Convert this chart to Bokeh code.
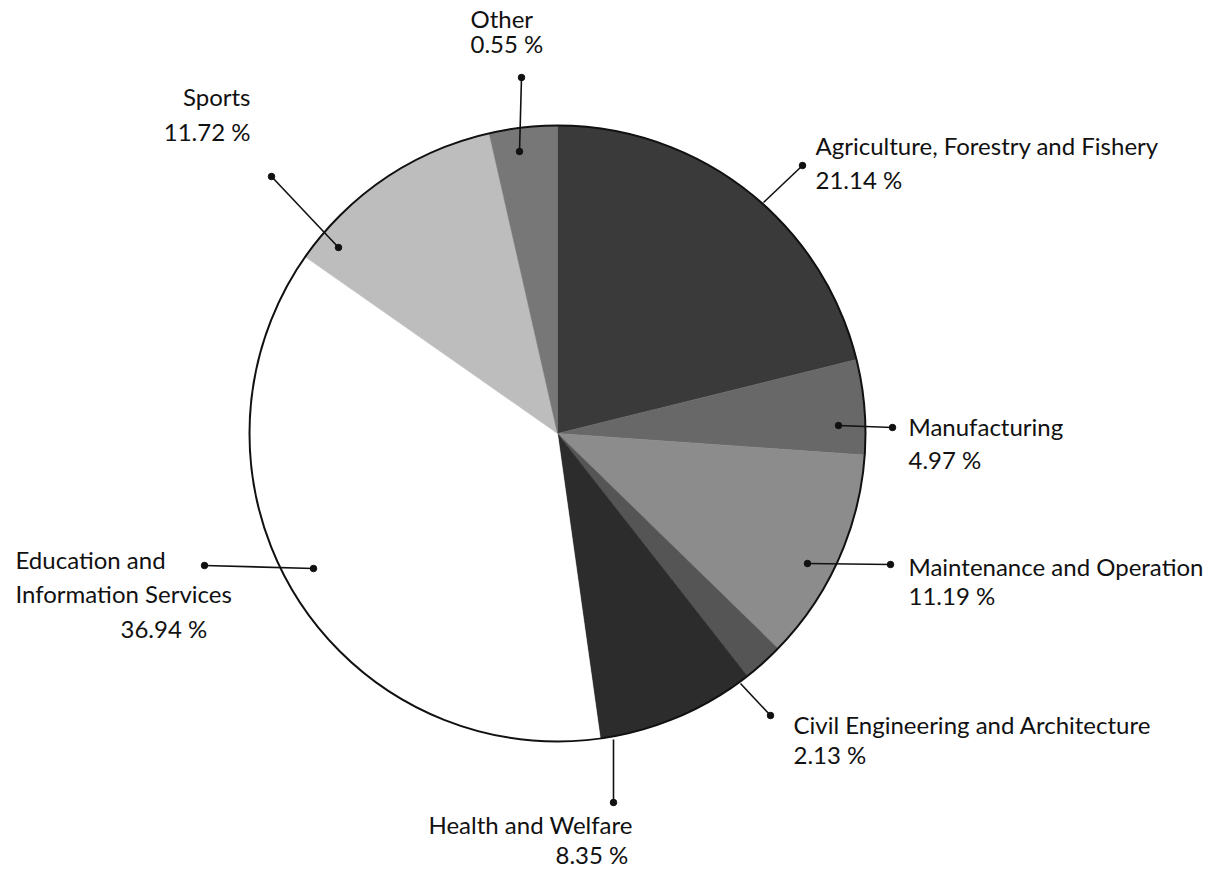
import numpy as np
from bokeh.plotting import figure
from bokeh.models import Range1d, ColumnDataSource
from bokeh.core.properties import value
from bokeh.embed import file_html
from bokeh.resources import INLINE

# ---------------- data ----------------
categories = [
    "Agriculture, Forestry and Fishery",
    "Manufacturing",
    "Maintenance and Operation",
    "Civil Engineering and Architecture",
    "Health and Welfare",
    "Education and Information Services",
    "Sports",
    "Other",
]
shares = [21.14, 4.97, 11.19, 2.13, 8.35, 36.94, 11.72, 0.55]  # percent
pct_labels = ["21.14 %", "4.97 %", "11.19 %", "2.13 %", "8.35 %", "36.94 %", "11.72 %", "0.55 %"]

# ---------------- styles / layout ----------------
slice_colors = ["#3a3a3a", "#686868", "#8c8c8c", "#555555", "#2c2c2c", "#ffffff", "#bdbdbd", "#777777"]
FONT = "Lato"
FS = "24px"
W, HH = 1214, 868
TEXT_DY = 9  # renderer places alphabetic baseline a little low; compensate

def Y(py):
    return HH - py

CX, CY, R = 557, Y(433), 308

# leader lines: (outer x, outer y, inner x, inner y, inner dot?) in page pixels
leaders = {
    "Agriculture, Forestry and Fishery": (802, 165, 763, 202, False),
    "Manufacturing": (892, 427, 838, 425, True),
    "Maintenance and Operation": (890, 564, 807, 563, True),
    "Civil Engineering and Architecture": (770, 715, 740, 683, False),
    "Health and Welfare": (613, 802, 613, 739, False),
    "Education and Information Services": (204, 565, 313, 568, True),
    "Sports": (271, 176, 338, 247, True),
    "Other": (521, 77, 519, 151, True),
}

# label lines: (text, x, baseline y, align)
label_lines = [
    ("Agriculture, Forestry and Fishery", 815, 154, "left"),
    ("21.14 %", 815, 188, "left"),
    ("Manufacturing", 908, 435, "left"),
    ("4.97 %", 908, 468, "left"),
    ("Maintenance and Operation", 908, 575, "left"),
    ("11.19 %", 908, 604, "left"),
    ("Civil Engineering and Architecture", 793, 733, "left"),
    ("2.13 %", 793, 763, "left"),
    ("Health and Welfare", 428, 833, "left"),
    ("8.35 %", 555, 863, "left"),
    ("Education and", 15, 568, "left"),
    ("Information Services", 15, 602, "left"),
    ("36.94 %", 120, 637, "left"),
    ("Sports", 250, 105, "right"),
    ("11.72 %", 250, 140, "right"),
    ("Other", 470, 27, "left"),
    ("0.55 %", 470, 52, "left"),
]

# ---------------- wedges ----------------
vals = np.array(shares, dtype=float)
start_cw = np.concatenate([[0.0], np.cumsum(vals)[:-1]]) * 3.6   # degrees clockwise from 12 o'clock
end_cw = np.concatenate([start_cw[1:], [360.0]])                 # last slice closes the circle
start_angle = np.pi / 2 - np.radians(end_cw)
end_angle = np.pi / 2 - np.radians(start_cw)

src = ColumnDataSource(dict(
    cat=categories, val=shares,
    start=start_angle, end=end_angle, color=slice_colors,
))

p = figure(width=W, height=HH, output_backend="svg", toolbar_location=None,
           x_axis_type=None, y_axis_type=None,
           x_range=Range1d(0, W), y_range=Range1d(0, HH),
           min_border=0, outline_line_color=None,
           background_fill_color="white", border_fill_color="white")
p.grid.visible = False

p.wedge(x=CX, y=CY, radius=R, start_angle="start", end_angle="end",
        fill_color="color", line_color="color", line_width=0.5, source=src)
p.circle(x=CX, y=CY, radius=R, fill_color=None, line_color="#111111", line_width=2)

# leader lines
xs, ys, dx, dy = [], [], [], []
for cat in categories:
    ox, oy, ix, iy, idot = leaders[cat]
    xs.append([ox, ix]); ys.append([Y(oy), Y(iy)])
    dx.append(ox); dy.append(Y(oy))
    if idot:
        dx.append(ix); dy.append(Y(iy))
p.multi_line(xs=xs, ys=ys, line_color="#111111", line_width=1.6)
p.scatter(x=dx, y=dy, size=6.5, marker="circle", fill_color="#111111", line_color="#111111")

# labels
for align in ("left", "right"):
    sel = [l for l in label_lines if l[3] == align]
    p.text(x=[l[1] for l in sel], y=[Y(l[2] - TEXT_DY) for l in sel], text=[l[0] for l in sel],
           text_font=value(FONT), text_font_size=FS, text_color="#111111",
           text_align=align, text_baseline="alphabetic")

open("out.html", "w").write(file_html(p, INLINE))
